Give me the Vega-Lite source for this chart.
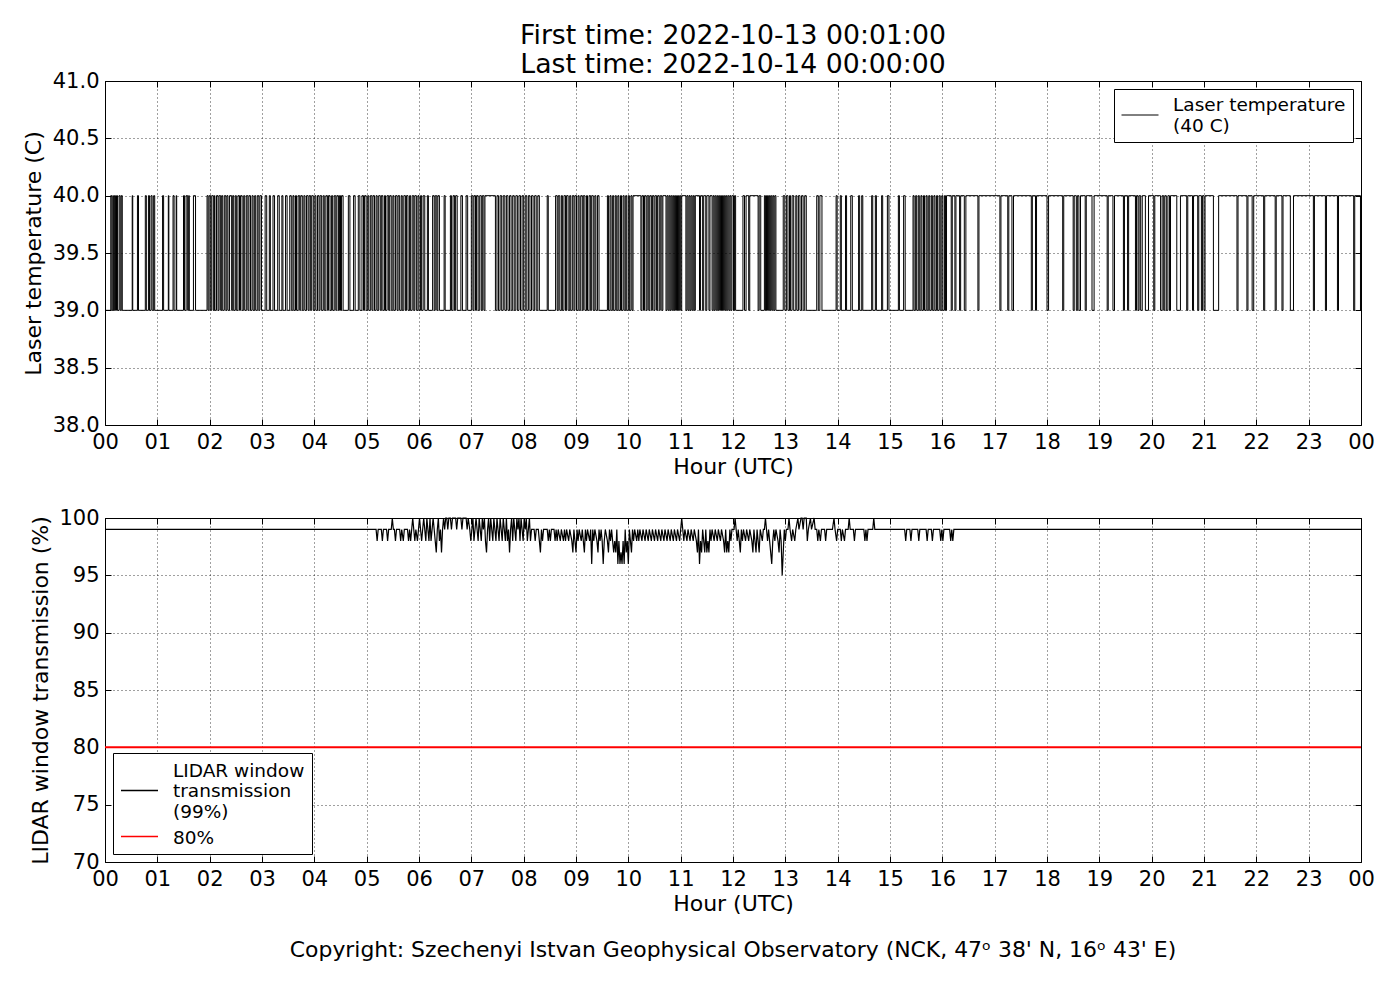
{
  "$schema": "https://vega.github.io/schema/vega-lite/v6.json",
  "padding": {"left": 21, "top": 22, "right": 38, "bottom": 10},
  "background": "white",
  "spacing": 28,
  "resolve": {"scale": {"color": "independent"}, "legend": {"color": "independent"}},
  "config": {
    "font": "DejaVu Sans",
    "view": {"stroke": "black", "strokeWidth": 1},
    "axis": {
      "zindex": 1,
      "domain": false,
      "grid": true,
      "gridColor": "black",
      "gridDash": [1, 3],
      "gridOpacity": 0.75,
      "tickColor": "black",
      "tickSize": -6,
      "labelPadding": 12,
      "labelFont": "DejaVu Sans",
      "labelFontSize": 21,
      "labelColor": "black",
      "labelFlush": false,
      "labelOverlap": false,
      "titleFont": "DejaVu Sans",
      "titleFontSize": 22,
      "titleFontWeight": "normal",
      "titleColor": "black"
    },
    "legend": {
      "zindex": 2,
      "strokeColor": "black",
      "fillColor": "white",
      "padding": 7,
      "cornerRadius": 0,
      "symbolType": "stroke",
      "symbolSize": 1369,
      "symbolStrokeWidth": 1.5,
      "labelFont": "DejaVu Sans",
      "labelFontSize": 18.5,
      "labelColor": "black",
      "labelLimit": 400,
      "labelOffset": 14,
      "rowPadding": 6,
      "offset": 8,
      "title": null
    }
  },
  "datasets": {
    "laser": [
      {"h":0.017,"c":39},
      {"h":0.11,"c":40},{"h":0.13,"c":39},{"h":0.15,"c":40},{"h":0.16,"c":39},{"h":0.18,"c":40},{"h":0.2,"c":39},{"h":0.22,"c":40},{"h":0.24,"c":39},{"h":0.27,"c":40},{"h":0.29,"c":39},{"h":0.31,"c":40},{"h":0.33,"c":39},
      {"h":0.52,"c":40},{"h":0.53,"c":39},{"h":0.62,"c":40},{"h":0.64,"c":39},{"h":0.77,"c":40},{"h":0.79,"c":39},{"h":0.83,"c":40},{"h":0.85,"c":39},{"h":0.88,"c":40},{"h":0.9,"c":39},{"h":0.93,"c":40},{"h":0.95,"c":39},
      {"h":1.1,"c":40},{"h":1.12,"c":39},{"h":1.21,"c":40},{"h":1.22,"c":39},{"h":1.3,"c":40},{"h":1.32,"c":39},{"h":1.36,"c":40},{"h":1.37,"c":39},{"h":1.5,"c":40},{"h":1.52,"c":39},{"h":1.55,"c":40},{"h":1.58,"c":39},{"h":1.6,"c":40},{"h":1.61,"c":39},{"h":1.69,"c":40},{"h":1.73,"c":39},
      {"h":1.95,"c":40},{"h":1.97,"c":39},{"h":1.99,"c":40},{"h":2.02,"c":39},{"h":2.04,"c":40},{"h":2.07,"c":39},{"h":2.09,"c":40},{"h":2.1,"c":39},{"h":2.13,"c":40},{"h":2.16,"c":39},{"h":2.18,"c":40},{"h":2.21,"c":39},{"h":2.23,"c":40},{"h":2.25,"c":39},{"h":2.28,"c":40},{"h":2.31,"c":39},{"h":2.33,"c":40},{"h":2.35,"c":39},{"h":2.38,"c":40},{"h":2.42,"c":39},{"h":2.44,"c":40},{"h":2.46,"c":39},{"h":2.49,"c":40},{"h":2.51,"c":39},{"h":2.54,"c":40},{"h":2.57,"c":39},{"h":2.59,"c":40},{"h":2.62,"c":39},{"h":2.65,"c":40},{"h":2.67,"c":39},{"h":2.7,"c":40},{"h":2.73,"c":39},{"h":2.75,"c":40},{"h":2.78,"c":39},{"h":2.81,"c":40},{"h":2.83,"c":39},{"h":2.86,"c":40},{"h":2.88,"c":39},{"h":2.91,"c":40},{"h":2.94,"c":39},{"h":2.96,"c":40},{"h":2.99,"c":39},
      {"h":3.06,"c":40},{"h":3.09,"c":39},{"h":3.14,"c":40},{"h":3.16,"c":39},{"h":3.21,"c":40},{"h":3.24,"c":39},{"h":3.3,"c":40},{"h":3.33,"c":39},{"h":3.38,"c":40},{"h":3.4,"c":39},{"h":3.45,"c":40},{"h":3.48,"c":39},{"h":3.53,"c":40},{"h":3.56,"c":39},
      {"h":3.59,"c":40},{"h":3.61,"c":39},{"h":3.64,"c":40},{"h":3.66,"c":39},{"h":3.69,"c":40},{"h":3.72,"c":39},{"h":3.74,"c":40},{"h":3.77,"c":39},{"h":3.8,"c":40},{"h":3.82,"c":39},{"h":3.85,"c":40},{"h":3.88,"c":39},{"h":3.9,"c":40},{"h":3.93,"c":39},{"h":3.95,"c":40},{"h":3.98,"c":39},{"h":4.01,"c":40},{"h":4.03,"c":39},{"h":4.06,"c":40},{"h":4.09,"c":39},{"h":4.11,"c":40},{"h":4.14,"c":39},{"h":4.17,"c":40},{"h":4.19,"c":39},{"h":4.22,"c":40},{"h":4.25,"c":39},{"h":4.27,"c":40},{"h":4.3,"c":39},{"h":4.33,"c":40},{"h":4.35,"c":39},{"h":4.38,"c":40},{"h":4.41,"c":39},{"h":4.43,"c":40},{"h":4.46,"c":39},
      {"h":4.48,"c":40},{"h":4.5,"c":39},{"h":4.52,"c":40},{"h":4.55,"c":39},{"h":4.65,"c":40},{"h":4.68,"c":39},{"h":4.75,"c":40},{"h":4.78,"c":39},{"h":4.84,"c":40},{"h":4.87,"c":39},
      {"h":4.91,"c":40},{"h":4.94,"c":39},{"h":4.96,"c":40},{"h":4.99,"c":39},{"h":5.02,"c":40},{"h":5.04,"c":39},{"h":5.07,"c":40},{"h":5.1,"c":39},{"h":5.12,"c":40},{"h":5.15,"c":39},{"h":5.18,"c":40},{"h":5.2,"c":39},{"h":5.23,"c":40},{"h":5.26,"c":39},{"h":5.28,"c":40},{"h":5.31,"c":39},{"h":5.34,"c":40},{"h":5.36,"c":39},{"h":5.39,"c":40},{"h":5.42,"c":39},{"h":5.44,"c":40},{"h":5.47,"c":39},{"h":5.5,"c":40},{"h":5.52,"c":39},{"h":5.55,"c":40},{"h":5.58,"c":39},{"h":5.6,"c":40},{"h":5.63,"c":39},{"h":5.66,"c":40},{"h":5.68,"c":39},{"h":5.71,"c":40},{"h":5.74,"c":39},{"h":5.76,"c":40},{"h":5.79,"c":39},{"h":5.82,"c":40},{"h":5.84,"c":39},{"h":5.87,"c":40},{"h":5.9,"c":39},{"h":5.92,"c":40},{"h":5.95,"c":39},{"h":5.98,"c":40},{"h":6.0,"c":39},
      {"h":6.03,"c":40},{"h":6.05,"c":39},{"h":6.08,"c":40},{"h":6.11,"c":39},{"h":6.16,"c":40},{"h":6.18,"c":39},{"h":6.26,"c":40},{"h":6.29,"c":39},{"h":6.31,"c":40},{"h":6.34,"c":39},{"h":6.36,"c":40},{"h":6.39,"c":39},
      {"h":6.48,"c":40},{"h":6.5,"c":39},{"h":6.6,"c":40},{"h":6.62,"c":39},{"h":6.65,"c":40},{"h":6.68,"c":39},{"h":6.7,"c":40},{"h":6.73,"c":39},{"h":6.8,"c":40},{"h":6.83,"c":39},{"h":6.9,"c":40},{"h":6.93,"c":39},
      {"h":7.0,"c":40},{"h":7.03,"c":39},{"h":7.05,"c":40},{"h":7.08,"c":39},{"h":7.1,"c":40},{"h":7.13,"c":39},{"h":7.16,"c":40},{"h":7.19,"c":39},{"h":7.21,"c":40},{"h":7.24,"c":39},{"h":7.26,"c":40},
      {"h":7.46,"c":39},{"h":7.49,"c":40},{"h":7.52,"c":39},{"h":7.55,"c":40},{"h":7.58,"c":39},{"h":7.61,"c":40},{"h":7.64,"c":39},{"h":7.67,"c":40},{"h":7.7,"c":39},{"h":7.73,"c":40},{"h":7.76,"c":39},{"h":7.79,"c":40},{"h":7.82,"c":39},{"h":7.85,"c":40},{"h":7.88,"c":39},{"h":7.91,"c":40},{"h":7.94,"c":39},{"h":7.97,"c":40},{"h":8.0,"c":39},{"h":8.03,"c":40},{"h":8.06,"c":39},{"h":8.09,"c":40},{"h":8.12,"c":39},{"h":8.15,"c":40},{"h":8.18,"c":39},{"h":8.21,"c":40},{"h":8.24,"c":39},{"h":8.27,"c":40},{"h":8.3,"c":39},
      {"h":8.45,"c":40},{"h":8.47,"c":39},
      {"h":8.61,"c":40},{"h":8.64,"c":39},{"h":8.66,"c":40},{"h":8.69,"c":39},{"h":8.72,"c":40},{"h":8.74,"c":39},{"h":8.77,"c":40},{"h":8.8,"c":39},{"h":8.82,"c":40},{"h":8.85,"c":39},{"h":8.88,"c":40},{"h":8.9,"c":39},{"h":8.93,"c":40},{"h":8.96,"c":39},{"h":8.98,"c":40},{"h":9.01,"c":39},{"h":9.04,"c":40},{"h":9.06,"c":39},{"h":9.09,"c":40},{"h":9.12,"c":39},{"h":9.14,"c":40},{"h":9.17,"c":39},{"h":9.2,"c":40},{"h":9.22,"c":39},{"h":9.25,"c":40},{"h":9.28,"c":39},{"h":9.3,"c":40},{"h":9.33,"c":39},{"h":9.36,"c":40},{"h":9.38,"c":39},{"h":9.41,"c":40},{"h":9.44,"c":39},
      {"h":9.6,"c":40},{"h":9.62,"c":39},{"h":9.65,"c":40},{"h":9.67,"c":39},{"h":9.7,"c":40},{"h":9.72,"c":39},{"h":9.75,"c":40},{"h":9.77,"c":39},{"h":9.8,"c":40},{"h":9.82,"c":39},{"h":9.85,"c":40},{"h":9.87,"c":39},{"h":9.9,"c":40},{"h":9.92,"c":39},{"h":9.95,"c":40},{"h":9.97,"c":39},{"h":10.0,"c":40},{"h":10.02,"c":39},{"h":10.05,"c":40},{"h":10.07,"c":39},{"h":10.09,"c":40},
      {"h":10.24,"c":39},{"h":10.26,"c":40},{"h":10.29,"c":39},{"h":10.31,"c":40},{"h":10.34,"c":39},{"h":10.36,"c":40},{"h":10.39,"c":39},{"h":10.41,"c":40},{"h":10.44,"c":39},{"h":10.46,"c":40},{"h":10.49,"c":39},{"h":10.51,"c":40},{"h":10.54,"c":39},{"h":10.56,"c":40},{"h":10.59,"c":39},{"h":10.61,"c":40},{"h":10.64,"c":39},{"h":10.66,"c":40},{"h":10.72,"c":39},{"h":10.74,"c":40},{"h":10.76,"c":39},{"h":10.78,"c":40},{"h":10.8,"c":39},{"h":10.82,"c":40},{"h":10.84,"c":39},{"h":10.86,"c":40},{"h":10.88,"c":39},{"h":10.9,"c":40},{"h":10.92,"c":39},{"h":10.94,"c":40},{"h":10.96,"c":39},{"h":10.98,"c":40},{"h":11.0,"c":39},{"h":11.02,"c":40},
      {"h":11.1,"c":39},{"h":11.12,"c":40},{"h":11.14,"c":39},{"h":11.16,"c":40},{"h":11.18,"c":39},{"h":11.2,"c":40},{"h":11.22,"c":39},{"h":11.24,"c":40},{"h":11.26,"c":39},{"h":11.28,"c":40},
      {"h":11.36,"c":39},{"h":11.38,"c":40},{"h":11.42,"c":39},{"h":11.44,"c":40},{"h":11.48,"c":39},{"h":11.5,"c":40},{"h":11.54,"c":39},{"h":11.56,"c":40},{"h":11.6,"c":39},{"h":11.62,"c":40},{"h":11.64,"c":39},{"h":11.66,"c":40},{"h":11.68,"c":39},{"h":11.7,"c":40},{"h":11.72,"c":39},{"h":11.74,"c":40},{"h":11.76,"c":39},{"h":11.78,"c":40},{"h":11.8,"c":39},{"h":11.82,"c":40},{"h":11.84,"c":39},{"h":11.86,"c":40},{"h":11.88,"c":39},{"h":11.9,"c":40},{"h":11.92,"c":39},{"h":11.94,"c":40},{"h":11.96,"c":39},{"h":11.98,"c":40},
      {"h":12.01,"c":39},{"h":12.03,"c":40},{"h":12.05,"c":39},{"h":12.19,"c":40},{"h":12.22,"c":39},{"h":12.25,"c":40},{"h":12.3,"c":39},{"h":12.32,"c":40},{"h":12.48,"c":39},{"h":12.5,"c":40},{"h":12.53,"c":39},
      {"h":12.6,"c":40},{"h":12.62,"c":39},{"h":12.64,"c":40},{"h":12.66,"c":39},{"h":12.68,"c":40},{"h":12.7,"c":39},{"h":12.72,"c":40},{"h":12.74,"c":39},{"h":12.76,"c":40},{"h":12.78,"c":39},{"h":12.8,"c":40},{"h":12.82,"c":39},
      {"h":12.96,"c":40},{"h":12.99,"c":39},{"h":13.02,"c":40},{"h":13.05,"c":39},{"h":13.08,"c":40},{"h":13.1,"c":39},{"h":13.13,"c":40},{"h":13.16,"c":39},{"h":13.2,"c":40},{"h":13.22,"c":39},{"h":13.25,"c":40},{"h":13.28,"c":39},{"h":13.31,"c":40},{"h":13.34,"c":39},{"h":13.37,"c":40},{"h":13.4,"c":39},
      {"h":13.6,"c":40},{"h":13.63,"c":39},{"h":13.66,"c":40},{"h":13.7,"c":39},
      {"h":13.97,"c":40},{"h":13.99,"c":39},{"h":14.05,"c":40},{"h":14.07,"c":39},{"h":14.15,"c":40},{"h":14.17,"c":39},{"h":14.25,"c":40},{"h":14.28,"c":39},{"h":14.4,"c":40},{"h":14.42,"c":39},{"h":14.46,"c":40},{"h":14.48,"c":39},{"h":14.65,"c":40},{"h":14.67,"c":39},{"h":14.72,"c":40},{"h":14.74,"c":39},{"h":14.84,"c":40},{"h":14.86,"c":39},{"h":14.95,"c":40},{"h":14.98,"c":39},{"h":15.16,"c":40},{"h":15.18,"c":39},{"h":15.26,"c":40},{"h":15.29,"c":39},
      {"h":15.44,"c":40},{"h":15.46,"c":39},{"h":15.49,"c":40},{"h":15.51,"c":39},{"h":15.54,"c":40},{"h":15.56,"c":39},{"h":15.59,"c":40},{"h":15.61,"c":39},{"h":15.64,"c":40},{"h":15.66,"c":39},{"h":15.69,"c":40},{"h":15.71,"c":39},{"h":15.74,"c":40},{"h":15.76,"c":39},{"h":15.79,"c":40},{"h":15.81,"c":39},{"h":15.84,"c":40},{"h":15.86,"c":39},{"h":15.89,"c":40},{"h":15.91,"c":39},{"h":15.94,"c":40},{"h":15.96,"c":39},{"h":15.99,"c":40},{"h":16.01,"c":39},{"h":16.04,"c":40},{"h":16.06,"c":39},{"h":16.08,"c":40},
      {"h":16.17,"c":39},{"h":16.19,"c":40},{"h":16.24,"c":39},{"h":16.26,"c":40},{"h":16.33,"c":39},{"h":16.35,"c":40},{"h":16.42,"c":39},{"h":16.45,"c":40},{"h":16.68,"c":39},{"h":16.7,"c":40},
      {"h":17.1,"c":39},{"h":17.12,"c":40},{"h":17.25,"c":39},{"h":17.27,"c":40},{"h":17.33,"c":39},{"h":17.36,"c":40},{"h":17.7,"c":39},{"h":17.72,"c":40},{"h":17.78,"c":39},{"h":17.8,"c":40},
      {"h":18.0,"c":39},{"h":18.03,"c":40},{"h":18.3,"c":39},{"h":18.32,"c":40},{"h":18.5,"c":39},{"h":18.52,"c":40},{"h":18.56,"c":39},{"h":18.58,"c":40},{"h":18.61,"c":39},{"h":18.64,"c":40},{"h":18.73,"c":39},{"h":18.75,"c":40},{"h":18.86,"c":39},{"h":18.9,"c":40},
      {"h":19.15,"c":39},{"h":19.17,"c":40},{"h":19.26,"c":39},{"h":19.29,"c":40},{"h":19.46,"c":39},{"h":19.48,"c":40},{"h":19.54,"c":39},{"h":19.56,"c":40},{"h":19.69,"c":39},{"h":19.71,"c":40},{"h":19.74,"c":39},{"h":19.76,"c":40},{"h":19.79,"c":39},{"h":19.82,"c":40},{"h":19.88,"c":39},{"h":19.94,"c":40},
      {"h":20.04,"c":39},{"h":20.06,"c":40},{"h":20.17,"c":39},{"h":20.2,"c":40},{"h":20.23,"c":39},{"h":20.25,"c":40},{"h":20.28,"c":39},{"h":20.31,"c":40},{"h":20.34,"c":39},{"h":20.36,"c":40},{"h":20.48,"c":39},{"h":20.55,"c":40},
      {"h":20.67,"c":39},{"h":20.69,"c":40},{"h":20.78,"c":39},{"h":20.8,"c":40},{"h":20.88,"c":39},{"h":20.9,"c":40},{"h":20.95,"c":39},{"h":20.97,"c":40},{"h":21.0,"c":39},{"h":21.02,"c":40},
      {"h":21.18,"c":39},{"h":21.28,"c":40},{"h":21.63,"c":39},{"h":21.65,"c":40},{"h":21.82,"c":39},{"h":21.84,"c":40},{"h":21.92,"c":39},{"h":21.95,"c":40},{"h":22.14,"c":39},{"h":22.16,"c":40},{"h":22.36,"c":39},{"h":22.38,"c":40},{"h":22.49,"c":39},{"h":22.51,"c":40},{"h":22.65,"c":39},{"h":22.71,"c":40},
      {"h":23.09,"c":39},{"h":23.11,"c":40},{"h":23.32,"c":39},{"h":23.34,"c":40},{"h":23.55,"c":39},{"h":23.57,"c":40},{"h":23.86,"c":39},{"h":23.88,"c":40},{"h":23.99,"c":39},{"h":24.0,"c":39}
    ],
    "lidar": [
      {"h":0.017,"t":99},
      {"h":5.18,"t":99},{"h":5.2,"t":98},{"h":5.22,"t":99},{"h":5.28,"t":99},{"h":5.3,"t":98},{"h":5.32,"t":99},{"h":5.38,"t":99},{"h":5.4,"t":98},{"h":5.42,"t":99},{"h":5.47,"t":99},{"h":5.49,"t":100},{"h":5.51,"t":99},{"h":5.53,"t":99},{"h":5.55,"t":98},{"h":5.57,"t":99},
      {"h":5.63,"t":99},{"h":5.65,"t":98},{"h":5.67,"t":99},{"h":5.7,"t":98},{"h":5.72,"t":99},{"h":5.78,"t":99},{"h":5.8,"t":98},{"h":5.82,"t":99},{"h":5.84,"t":98},{"h":5.86,"t":99},{"h":5.88,"t":100},{"h":5.9,"t":99},{"h":5.92,"t":98},{"h":5.94,"t":99},
      {"h":5.97,"t":98},{"h":5.99,"t":99},{"h":6.01,"t":100},{"h":6.03,"t":99},{"h":6.05,"t":98},{"h":6.07,"t":99},{"h":6.09,"t":100},{"h":6.11,"t":99},{"h":6.13,"t":98},{"h":6.15,"t":100},{"h":6.17,"t":99},{"h":6.19,"t":98},{"h":6.21,"t":100},{"h":6.23,"t":98},{"h":6.25,"t":99},{"h":6.27,"t":100},{"h":6.29,"t":99},{"h":6.31,"t":98},{"h":6.33,"t":97},{"h":6.35,"t":99},{"h":6.37,"t":100},{"h":6.39,"t":98},{"h":6.41,"t":99},{"h":6.43,"t":97},{"h":6.45,"t":99},{"h":6.47,"t":100},{"h":6.49,"t":99},{"h":6.51,"t":100},{"h":6.53,"t":100},{"h":6.55,"t":99},{"h":6.57,"t":100},{"h":6.6,"t":100},{"h":6.62,"t":99},{"h":6.64,"t":100},{"h":6.7,"t":100},{"h":6.72,"t":99},{"h":6.74,"t":100},{"h":6.8,"t":100},{"h":6.82,"t":99},{"h":6.84,"t":100},{"h":6.9,"t":100},{"h":6.92,"t":99},{"h":6.94,"t":100},
      {"h":6.97,"t":99},{"h":6.99,"t":98},{"h":7.01,"t":99},{"h":7.03,"t":100},{"h":7.05,"t":98},{"h":7.07,"t":99},{"h":7.09,"t":100},{"h":7.11,"t":99},{"h":7.13,"t":98},{"h":7.15,"t":100},{"h":7.17,"t":99},{"h":7.19,"t":98},{"h":7.21,"t":100},{"h":7.23,"t":99},{"h":7.25,"t":100},{"h":7.27,"t":98},{"h":7.29,"t":97},{"h":7.31,"t":99},{"h":7.33,"t":100},{"h":7.35,"t":98},{"h":7.37,"t":100},{"h":7.39,"t":99},{"h":7.41,"t":98},{"h":7.43,"t":100},{"h":7.45,"t":99},{"h":7.47,"t":98},{"h":7.49,"t":100},{"h":7.51,"t":99},{"h":7.53,"t":98},{"h":7.55,"t":100},{"h":7.57,"t":99},{"h":7.59,"t":98},{"h":7.61,"t":100},{"h":7.63,"t":99},{"h":7.65,"t":98},{"h":7.67,"t":100},{"h":7.69,"t":98},{"h":7.71,"t":99},{"h":7.73,"t":97},{"h":7.75,"t":99},{"h":7.77,"t":100},{"h":7.79,"t":98},{"h":7.81,"t":100},{"h":7.83,"t":99},{"h":7.85,"t":98},{"h":7.87,"t":100},{"h":7.89,"t":99},{"h":7.91,"t":100},{"h":7.93,"t":98},{"h":7.95,"t":100},{"h":7.97,"t":99},{"h":7.99,"t":98},{"h":8.01,"t":100},{"h":8.03,"t":99},{"h":8.05,"t":100},{"h":8.07,"t":98},{"h":8.09,"t":99},{"h":8.11,"t":100},{"h":8.13,"t":98},{"h":8.15,"t":99},
      {"h":8.2,"t":99},{"h":8.22,"t":98},{"h":8.24,"t":99},{"h":8.28,"t":99},{"h":8.3,"t":98},{"h":8.32,"t":97},{"h":8.34,"t":99},{"h":8.36,"t":98},{"h":8.38,"t":99},{"h":8.45,"t":99},{"h":8.47,"t":98},{"h":8.49,"t":99},{"h":8.51,"t":98},{"h":8.53,"t":99},{"h":8.58,"t":99},{"h":8.6,"t":98},{"h":8.62,"t":99},{"h":8.64,"t":98},{"h":8.66,"t":99},{"h":8.7,"t":98},{"h":8.72,"t":99},{"h":8.76,"t":98},{"h":8.78,"t":99},{"h":8.8,"t":98},{"h":8.82,"t":99},{"h":8.86,"t":98},{"h":8.88,"t":99},{"h":8.92,"t":98},{"h":8.94,"t":97},{"h":8.96,"t":99},{"h":8.98,"t":98},{"h":9.0,"t":97},{"h":9.02,"t":99},{"h":9.04,"t":98},{"h":9.06,"t":99},{"h":9.1,"t":98},{"h":9.12,"t":99},{"h":9.14,"t":98},{"h":9.16,"t":97},{"h":9.18,"t":99},{"h":9.2,"t":98},{"h":9.22,"t":99},{"h":9.26,"t":98},{"h":9.28,"t":99},{"h":9.3,"t":96},{"h":9.32,"t":99},{"h":9.34,"t":98},{"h":9.36,"t":99},{"h":9.4,"t":98},{"h":9.42,"t":97},{"h":9.44,"t":99},{"h":9.46,"t":98},{"h":9.48,"t":99},{"h":9.5,"t":98},{"h":9.52,"t":96},{"h":9.54,"t":98},{"h":9.56,"t":99},{"h":9.6,"t":98},{"h":9.62,"t":97},{"h":9.64,"t":99},{"h":9.66,"t":98},{"h":9.68,"t":99},{"h":9.72,"t":97},{"h":9.74,"t":98},{"h":9.76,"t":97},{"h":9.78,"t":99},{"h":9.8,"t":96},{"h":9.82,"t":98},{"h":9.84,"t":96},{"h":9.86,"t":97},{"h":9.88,"t":96},{"h":9.9,"t":98},{"h":9.92,"t":96},{"h":9.94,"t":99},{"h":9.96,"t":97},{"h":9.98,"t":98},{"h":10.0,"t":96},{"h":10.02,"t":99},{"h":10.04,"t":98},{"h":10.06,"t":97},{"h":10.08,"t":99},
      {"h":10.1,"t":98},{"h":10.12,"t":99},{"h":10.16,"t":98},{"h":10.18,"t":99},{"h":10.2,"t":98},{"h":10.22,"t":99},{"h":10.26,"t":98},{"h":10.28,"t":99},{"h":10.32,"t":98},{"h":10.34,"t":99},{"h":10.38,"t":98},{"h":10.4,"t":99},{"h":10.44,"t":98},{"h":10.46,"t":99},{"h":10.5,"t":98},{"h":10.52,"t":99},{"h":10.56,"t":98},{"h":10.58,"t":99},{"h":10.62,"t":98},{"h":10.64,"t":99},{"h":10.68,"t":98},{"h":10.7,"t":99},{"h":10.74,"t":98},{"h":10.76,"t":99},{"h":10.8,"t":98},{"h":10.82,"t":99},{"h":10.86,"t":98},{"h":10.88,"t":99},{"h":10.92,"t":98},{"h":10.94,"t":99},{"h":10.98,"t":98},{"h":11.0,"t":99},{"h":11.02,"t":100},{"h":11.04,"t":99},{"h":11.06,"t":98},{"h":11.08,"t":99},{"h":11.12,"t":98},{"h":11.14,"t":99},{"h":11.18,"t":98},{"h":11.2,"t":99},{"h":11.24,"t":98},{"h":11.26,"t":99},{"h":11.3,"t":98},{"h":11.32,"t":97},{"h":11.34,"t":99},{"h":11.36,"t":96},{"h":11.38,"t":98},{"h":11.4,"t":97},{"h":11.42,"t":99},{"h":11.44,"t":98},{"h":11.46,"t":97},{"h":11.48,"t":99},{"h":11.5,"t":97},{"h":11.52,"t":98},{"h":11.54,"t":97},{"h":11.56,"t":99},{"h":11.58,"t":98},{"h":11.6,"t":99},{"h":11.64,"t":98},{"h":11.66,"t":99},{"h":11.7,"t":98},{"h":11.72,"t":99},{"h":11.76,"t":98},{"h":11.78,"t":99},{"h":11.82,"t":98},{"h":11.84,"t":97},{"h":11.86,"t":99},{"h":11.88,"t":97},{"h":11.9,"t":98},{"h":11.92,"t":97},{"h":11.94,"t":99},{"h":11.96,"t":98},{"h":11.98,"t":99},
      {"h":12.02,"t":99},{"h":12.04,"t":100},{"h":12.06,"t":99},{"h":12.08,"t":98},{"h":12.1,"t":99},{"h":12.12,"t":98},{"h":12.14,"t":97},{"h":12.16,"t":99},{"h":12.18,"t":98},{"h":12.2,"t":99},{"h":12.24,"t":98},{"h":12.26,"t":99},{"h":12.3,"t":98},{"h":12.32,"t":99},{"h":12.36,"t":98},{"h":12.38,"t":97},{"h":12.4,"t":99},{"h":12.42,"t":98},{"h":12.44,"t":97},{"h":12.46,"t":99},{"h":12.48,"t":98},{"h":12.5,"t":97},{"h":12.52,"t":99},{"h":12.56,"t":98},{"h":12.58,"t":99},{"h":12.6,"t":99},{"h":12.62,"t":100},{"h":12.64,"t":99},{"h":12.66,"t":98},{"h":12.68,"t":99},{"h":12.7,"t":98},{"h":12.72,"t":97},{"h":12.74,"t":96},{"h":12.76,"t":98},{"h":12.78,"t":99},{"h":12.8,"t":98},{"h":12.82,"t":99},{"h":12.86,"t":98},{"h":12.88,"t":97},{"h":12.9,"t":99},{"h":12.92,"t":98},{"h":12.94,"t":95},{"h":12.96,"t":97},{"h":12.98,"t":99},{"h":13.0,"t":98},{"h":13.02,"t":99},
      {"h":13.05,"t":99},{"h":13.07,"t":100},{"h":13.09,"t":99},{"h":13.12,"t":98},{"h":13.14,"t":99},{"h":13.18,"t":98},{"h":13.2,"t":99},{"h":13.24,"t":100},{"h":13.26,"t":99},{"h":13.3,"t":100},{"h":13.32,"t":100},{"h":13.34,"t":99},{"h":13.36,"t":100},{"h":13.4,"t":100},{"h":13.42,"t":98},{"h":13.44,"t":99},{"h":13.48,"t":100},{"h":13.5,"t":99},{"h":13.55,"t":100},{"h":13.57,"t":99},{"h":13.6,"t":99},{"h":13.62,"t":98},{"h":13.64,"t":99},{"h":13.67,"t":98},{"h":13.69,"t":99},{"h":13.75,"t":99},{"h":13.77,"t":98},{"h":13.79,"t":99},
      {"h":13.9,"t":99},{"h":13.93,"t":100},{"h":13.95,"t":99},{"h":13.98,"t":98},{"h":14.0,"t":99},{"h":14.05,"t":99},{"h":14.07,"t":98},{"h":14.09,"t":99},{"h":14.13,"t":98},{"h":14.15,"t":99},{"h":14.2,"t":99},{"h":14.22,"t":100},{"h":14.24,"t":99},{"h":14.3,"t":99},{"h":14.32,"t":98},{"h":14.34,"t":99},{"h":14.5,"t":99},{"h":14.52,"t":98},{"h":14.54,"t":99},{"h":14.56,"t":98},{"h":14.58,"t":99},{"h":14.67,"t":99},{"h":14.69,"t":100},{"h":14.71,"t":99},
      {"h":15.28,"t":99},{"h":15.3,"t":98},{"h":15.32,"t":99},{"h":15.38,"t":99},{"h":15.4,"t":98},{"h":15.42,"t":99},{"h":15.53,"t":99},{"h":15.55,"t":98},{"h":15.57,"t":99},{"h":15.69,"t":99},{"h":15.71,"t":98},{"h":15.73,"t":99},{"h":15.79,"t":99},{"h":15.81,"t":98},{"h":15.83,"t":99},{"h":15.95,"t":99},{"h":15.97,"t":98},{"h":15.99,"t":99},{"h":16.01,"t":98},{"h":16.03,"t":99},{"h":16.14,"t":99},{"h":16.16,"t":98},{"h":16.18,"t":99},{"h":16.2,"t":98},{"h":16.22,"t":99},
      {"h":24.0,"t":99}
    ],
    "limit": [{"h":0,"lim":80},{"h":24,"lim":80}]
  },
  "vconcat": [
    {
      "width": 1256,
      "height": 344,
      "title": {
        "text": ["First time: 2022-10-13 00:01:00", "Last time: 2022-10-14 00:00:00"],
        "fontSize": 26.7,
        "fontWeight": "normal",
        "font": "DejaVu Sans",
        "color": "black",
        "lineHeight": 29,
        "anchor": "middle",
        "frame": "group",
        "offset": -9
      },
      "data": {"name": "laser"},
      "transform": [{"fold": ["c"], "as": ["s", "v"]}],
      "resolve": {"axis": {"x": "independent", "y": "independent"}},
      "layer": [
        {
          "mark": {"type": "line", "interpolate": "step-after", "strokeWidth": 1},
          "encoding": {
            "x": {
              "field": "h", "type": "quantitative",
              "scale": {"domain": [0, 24], "nice": false, "zero": false},
              "axis": {
                "orient": "bottom", "title": "Hour (UTC)", "titlePadding": 4,
                "values": [0,1,2,3,4,5,6,7,8,9,10,11,12,13,14,15,16,17,18,19,20,21,22,23,24],
                "labelExpr": "(datum.value % 24 < 10 ? '0' : '') + (datum.value % 24)"
              }
            },
            "y": {
              "field": "v", "type": "quantitative",
              "scale": {"domain": [38, 41], "nice": false, "zero": false},
              "axis": {
                "orient": "left", "title": "Laser temperature (C)", "titlePadding": 7,
                "values": [38, 38.5, 39, 39.5, 40, 40.5, 41],
                "format": ".1f"
              }
            },
            "color": {
              "field": "s", "type": "nominal",
              "scale": {"domain": ["c"], "range": ["black"]},
              "legend": {
                "orient": "top-right",
                "symbolStrokeWidth": 1,
                "labelExpr": "['Laser temperature', '(40 C)']",
                "encode": {"labels": {"update": {"dy": {"value": -10}}}}
              }
            }
          }
        },
        {
          "mark": {"type": "line", "interpolate": "step-after", "strokeOpacity": 0},
          "encoding": {
            "x": {
              "field": "h", "type": "quantitative",
              "axis": {"orient": "top", "labels": false, "title": null, "grid": false,
                       "values": [0,1,2,3,4,5,6,7,8,9,10,11,12,13,14,15,16,17,18,19,20,21,22,23,24]}
            },
            "y": {
              "field": "v", "type": "quantitative",
              "axis": {"orient": "right", "labels": false, "title": null, "grid": false,
                       "values": [38, 38.5, 39, 39.5, 40, 40.5, 41]}
            }
          }
        }
      ]
    },
    {
      "width": 1256,
      "height": 344,
      "title": {
        "text": "Copyright: Szechenyi Istvan Geophysical Observatory (NCK, 47ᵒ  38' N, 16ᵒ  43' E)",
        "orient": "bottom",
        "anchor": "middle",
        "frame": "group",
        "fontSize": 21.9,
        "fontWeight": "normal",
        "font": "DejaVu Sans",
        "color": "black",
        "offset": 26
      },
      "resolve": {"axis": {"x": "independent", "y": "independent"}},
      "layer": [
        {
          "data": {"name": "lidar"},
          "transform": [{"fold": ["t"], "as": ["s", "v"]}],
          "mark": {"type": "line", "strokeWidth": 1.2},
          "encoding": {
            "x": {
              "field": "h", "type": "quantitative",
              "scale": {"domain": [0, 24], "nice": false, "zero": false},
              "axis": {
                "orient": "bottom", "title": "Hour (UTC)", "titlePadding": 4,
                "values": [0,1,2,3,4,5,6,7,8,9,10,11,12,13,14,15,16,17,18,19,20,21,22,23,24],
                "labelExpr": "(datum.value % 24 < 10 ? '0' : '') + (datum.value % 24)"
              }
            },
            "y": {
              "field": "v", "type": "quantitative",
              "scale": {"domain": [70, 100], "nice": false, "zero": false},
              "axis": {
                "orient": "left", "title": "LIDAR window transmission (%)", "titlePadding": 6,
                "values": [70, 75, 80, 85, 90, 95, 100]
              }
            },
            "color": {
              "field": "s", "type": "nominal",
              "scale": {"domain": ["t", "lim"], "range": ["black", "red"]},
              "legend": {
                "orient": "bottom-left",
                "labelExpr": "datum.label == 'lim' ? '80%' : ['LIDAR window', 'transmission', '(99%)']",
                "encode": {
                  "labels": {"update": {"dy": {"value": -9}}},
                  "symbols": {"update": {"y": {"signal": "datum.value == 'lim' ? 9.5 : 30.5"}}}
                }
              }
            }
          }
        },
        {
          "data": {"name": "limit"},
          "transform": [{"fold": ["lim"], "as": ["s", "v"]}],
          "mark": {"type": "line", "strokeWidth": 2},
          "encoding": {
            "x": {
              "field": "h", "type": "quantitative",
              "axis": {"orient": "top", "labels": false, "title": null, "grid": false,
                       "values": [0,1,2,3,4,5,6,7,8,9,10,11,12,13,14,15,16,17,18,19,20,21,22,23,24]}
            },
            "y": {
              "field": "v", "type": "quantitative",
              "axis": {"orient": "right", "labels": false, "title": null, "grid": false,
                       "values": [70, 75, 80, 85, 90, 95, 100]}
            },
            "color": {"field": "s", "type": "nominal"}
          }
        }
      ]
    }
  ]
}
